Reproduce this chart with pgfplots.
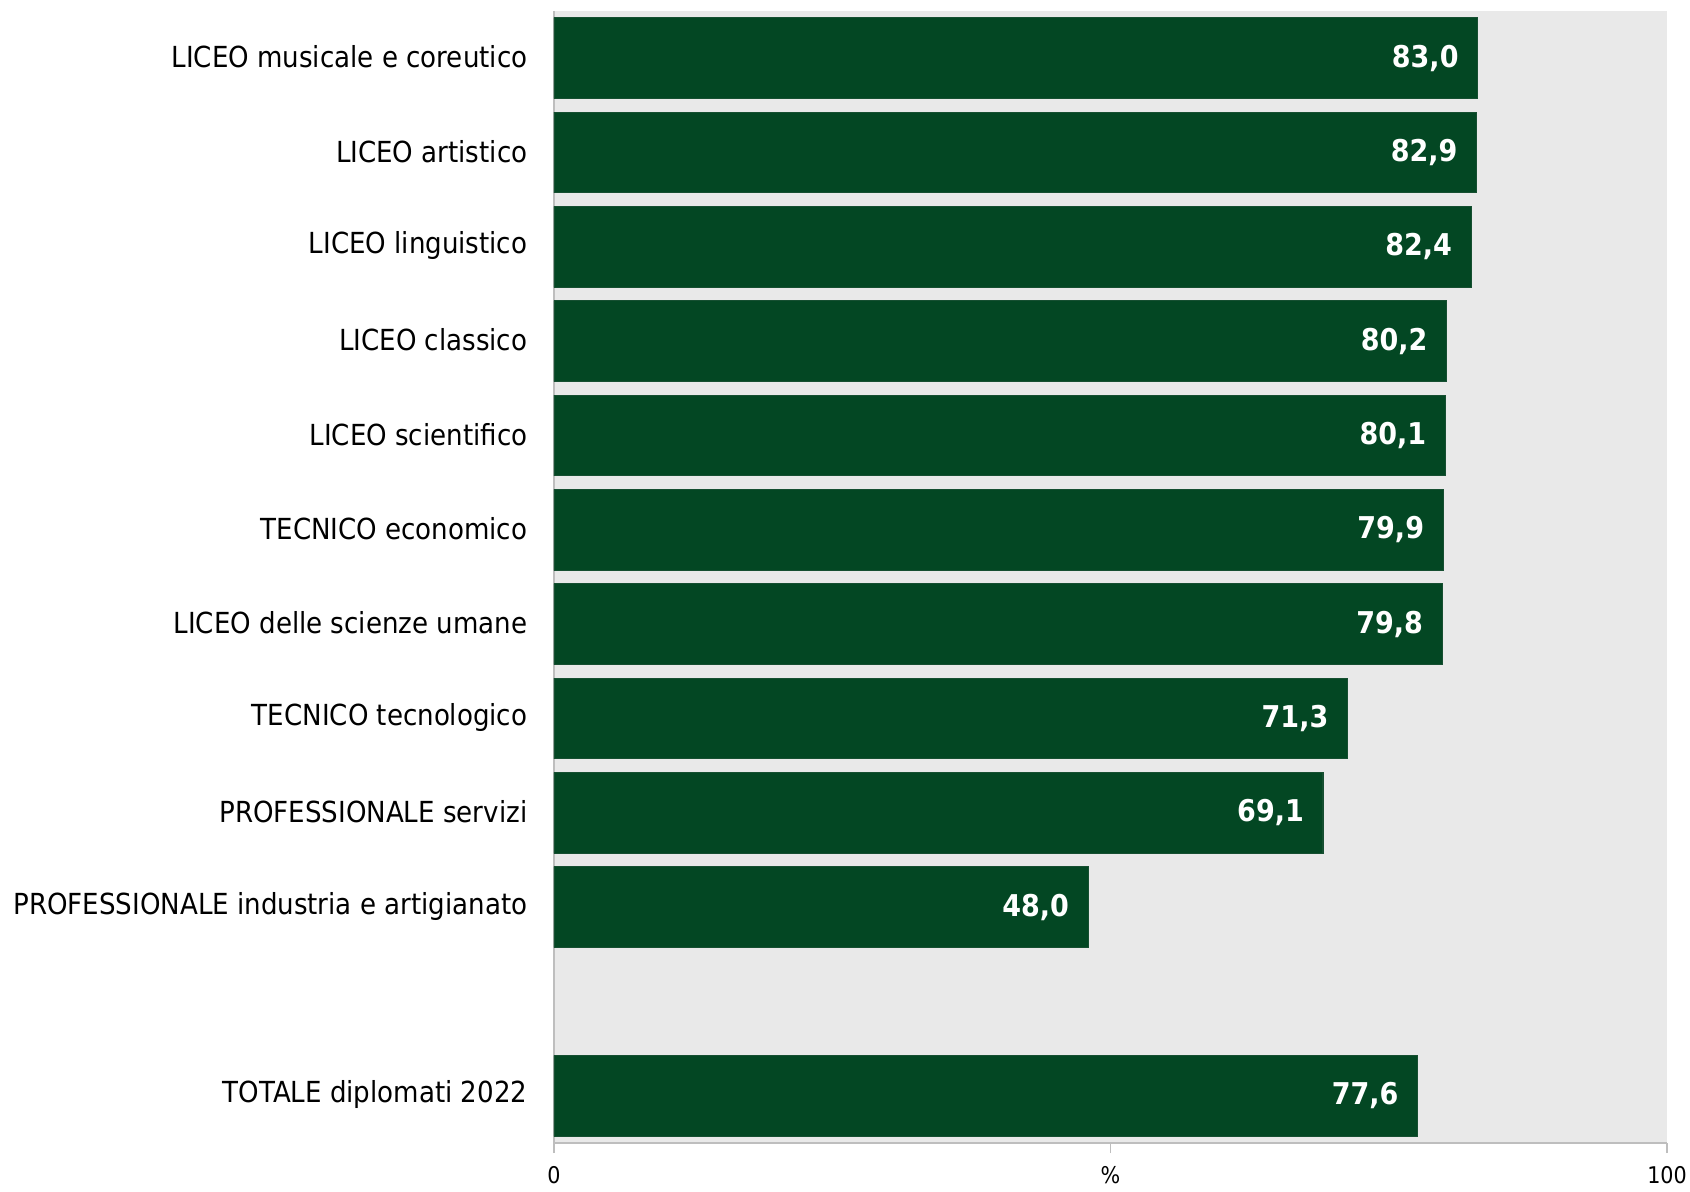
\documentclass[border=0pt]{standalone}
\usepackage{fontspec}
\setmainfont{DejaVu Sans Condensed}
\usepackage{pgfplots}
\usepackage{pgfplotstable}
\pgfplotsset{compat=1.18}
\definecolor{bargreen}{RGB}{3,71,35}
\definecolor{bggray}{RGB}{233,233,233}
\definecolor{axgray}{RGB}{190,190,190}
\pgfplotstableread{
val pos lab
83.0 0 83,0
82.9 1 82,9
82.4 2 82,4
80.2 3 80,2
80.1 4 80,1
79.9 5 79,9
79.8 6 79,8
71.3 7 71,3
69.1 8 69,1
48.0 9 48,0
77.6 11 77,6
}\datatab
\begin{document}
\begin{tikzpicture}
\begin{axis}[
 scale only axis, width=556.5pt, height=566pt,
 xbar, bar width=40.3pt,
 xmin=0, xmax=100, ymin=-0.5, ymax=11.5, y dir=reverse,
 axis background/.style={fill=bggray},
 axis x line*=bottom, axis y line*=left,
 axis line style={axgray, line width=0.8pt},
 xtick={0,50,100}, xticklabels={0,\%,100},
 x tick label style={font=\fontsize{11.5}{13}\selectfont, yshift=-3pt},
 ytick={0,1,2,3,4,5,6,7,8,9,11},
 yticklabels={LICEO musicale e coreutico, LICEO artistico, LICEO linguistico, LICEO classico, LICEO scientifico, TECNICO economico, LICEO delle scienze umane, TECNICO tecnologico, PROFESSIONALE servizi, PROFESSIONALE industria e artigianato, TOTALE diplomati 2022},
 y tick label style={font=\fontsize{14.5}{16}\selectfont, xshift=-4.8pt, yshift=0.5pt},
 tick align=outside,
 x tick style={axgray, line width=0.8pt},
 xtick pos=bottom,
 major tick length=5pt,
 y tick style={draw=none},
 point meta=explicit symbolic,
 nodes near coords,
 every node near coord/.append style={anchor=east, xshift=-6pt, text=white, font=\fontsize{15}{17}\selectfont\bfseries},
 /pgf/number format/assume math mode=true,
]
\addplot[fill=bargreen, draw=bargreen!85!gray, line width=0.6pt] table[x=val, y=pos, meta=lab] {\datatab};
\coordinate (sw) at (axis description cs:0,0);
\coordinate (ne) at (axis description cs:1,1);
\end{axis}
\pgfresetboundingbox
\path ([shift={(-277pt,-24.5pt)}]sw) rectangle ([shift={(11.5pt,5.5pt)}]ne);
\end{tikzpicture}
\end{document}
